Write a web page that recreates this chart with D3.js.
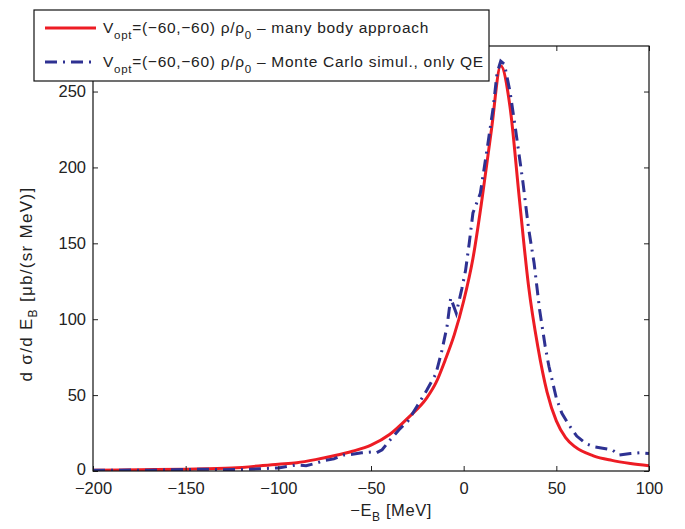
<!DOCTYPE html>
<html>
<head>
<meta charset="utf-8">
<script src="https://cdn.jsdelivr.net/npm/d3@7"></script>
<style>
  body { margin: 0; background: #fff; }
  svg { display: block; font-family: "Liberation Sans", Arial, Helvetica, sans-serif; }
</style>
</head>
<body>
<div id="chart"></div>
<script>
// many body approach (red, solid)
const redX = [-200, -175, -150, -125, -100, -90, -80, -70, -60, -50, -40, -30, -20, -15, -10, -5, 0, 5, 10, 15, 20, 25, 30, 35, 40, 45, 50, 55, 60, 70, 80, 90, 100];
const redY = [0.5, 0.8, 1.2, 2, 4.5, 5.5, 7.5, 10, 13, 17, 24, 35, 48, 58, 73, 90, 112, 140, 180, 225, 267, 240, 180, 122, 82, 52, 33, 22, 16, 10, 7, 5, 3.5];

// Monte Carlo simulation, only QE (blue, dash-dot)
const blueX = [-200, -190, -180, -170, -160, -150, -140, -130, -120, -110, -100, -90, -85, -80, -75, -70, -65, -60, -55, -50, -47, -44, -40, -35, -30, -25, -20, -15, -12, -9, -7, -4, -1, 1, 3, 5, 9, 13, 16, 18, 20, 22, 25, 28, 32, 35, 38, 41, 44, 46, 50, 53, 57, 61, 66, 70, 75, 80, 84, 90, 95, 100];
const blueY = [0.5, 0.5, 0.6, 0.5, 0.8, 1, 1.2, 0.8, 1, 1.5, 2, 4, 3.5, 5, 7, 8, 10.5, 11, 12, 12.5, 12, 14, 20, 27, 33, 43, 53, 64, 78, 95, 114, 104, 120, 132, 150, 170, 183, 215, 240, 262, 270, 268, 250, 225, 190, 160, 137, 106, 82, 69, 48, 38, 30, 23, 18, 16, 15, 14, 10.5, 11.5, 12, 11.5];

const xTicks = [-200, -150, -100, -50, 0, 50, 100];
const yTicks = [0, 50, 100, 150, 200, 250];

const width = 685, height = 529;
const margin = { top: 46, right: 36, bottom: 58, left: 93 };
const innerW = width - margin.left - margin.right;
const innerH = height - margin.top - margin.bottom;

const svg = d3.select("#chart").append("svg")
    .attr("width", width)
    .attr("height", height);

const x = d3.scaleLinear().domain([-200, 100]).range([margin.left, margin.left + innerW]);
const y = d3.scaleLinear().domain([0, 280]).range([margin.top + innerH, margin.top]);

const redData = redX.map((v, i) => [v, redY[i]]);
const blueData = blueX.map((v, i) => [v, blueY[i]]);

const line = d3.line()
    .x(d => x(d[0]))
    .y(d => y(d[1]))
    .curve(d3.curveMonotoneX);

// clip to plot area
svg.append("clipPath").attr("id", "clip")
    .append("rect")
    .attr("x", margin.left).attr("y", margin.top)
    .attr("width", innerW).attr("height", innerH);

const plot = svg.append("g").attr("clip-path", "url(#clip)");

plot.append("path")
    .datum(redData)
    .attr("d", line)
    .attr("fill", "none")
    .attr("stroke", "#ed1c24")
    .attr("stroke-width", 3);

plot.append("path")
    .datum(blueData)
    .attr("d", d3.line().x(d => x(d[0])).y(d => y(d[1])))
    .attr("fill", "none")
    .attr("stroke", "#2e3192")
    .attr("stroke-width", 3)
    .attr("stroke-dasharray", "12,6,2,6");

// axes (ticks inward, box on)
const tickLen = 5;
svg.append("g")
    .attr("transform", `translate(0,${margin.top + innerH})`)
    .call(d3.axisBottom(x).tickValues(xTicks).tickSize(-tickLen).tickPadding(11)
        .tickFormat(d => d < 0 ? "\u2212" + Math.abs(d) : d))
    .call(g => g.select(".domain").remove())
    .call(g => g.selectAll("text").attr("font-size", 16.5).attr("fill", "#222"));

svg.append("g")
    .attr("transform", `translate(${margin.left},0)`)
    .call(d3.axisLeft(y).tickValues(yTicks).tickSize(-tickLen).tickPadding(7))
    .call(g => g.select(".domain").remove())
    .call(g => g.selectAll("text").attr("font-size", 16.5).attr("fill", "#222"))
    .call(g => g.selectAll(".tick").filter(d => d === 0).select("text").attr("dy", "0.2em"));

svg.append("g")
    .attr("transform", `translate(0,${margin.top})`)
    .call(d3.axisTop(x).tickValues(xTicks).tickSize(-tickLen).tickFormat(""))
    .call(g => g.select(".domain").remove());

svg.append("g")
    .attr("transform", `translate(${margin.left + innerW},0)`)
    .call(d3.axisRight(y).tickValues(yTicks).tickSize(-tickLen).tickFormat(""))
    .call(g => g.select(".domain").remove());

svg.selectAll(".tick line").attr("stroke", "#222");

svg.append("rect")
    .attr("x", margin.left).attr("y", margin.top)
    .attr("width", innerW).attr("height", innerH)
    .attr("fill", "none")
    .attr("stroke", "#111")
    .attr("stroke-width", 1.2);

// axis labels
const xl = svg.append("text")
    .attr("x", 432)
    .attr("y", 516)
    .attr("text-anchor", "end")
    .attr("font-size", 16.5)
    .attr("letter-spacing", 0.6)
    .attr("fill", "#222");
xl.append("tspan").text("\u2212E");
xl.append("tspan").attr("font-size", 12).attr("dy", 5).text("B");
xl.append("tspan").attr("dy", -5).text(" [MeV]");

const yl = svg.append("text")
    .attr("transform", `translate(32,284) rotate(-90)`)
    .attr("text-anchor", "middle")
    .attr("font-size", 17)
    .attr("letter-spacing", 1.3)
    .attr("fill", "#222");
yl.append("tspan").text("d \u03c3/d E");
yl.append("tspan").attr("font-size", 12).attr("dy", 5).text("B");
yl.append("tspan").attr("dy", -5).text(" [\u03bcb/(sr MeV)]");

// legend
const legend = svg.append("g");
legend.append("rect")
    .attr("x", 34).attr("y", 10)
    .attr("width", 455).attr("height", 71)
    .attr("fill", "#fff")
    .attr("stroke", "#111")
    .attr("stroke-width", 1.2);

const entries = [
    { color: "#ed1c24", dash: null, tail: " \u2013 many body approach" },
    { color: "#2e3192", dash: "12,6,2,6", tail: " \u2013 Monte Carlo simul., only QE" }
];

entries.forEach((e, i) => {
    const cy = 28 + i * 34;
    legend.append("line")
        .attr("x1", 45).attr("x2", 96)
        .attr("y1", cy).attr("y2", cy)
        .attr("stroke", e.color)
        .attr("stroke-width", 3)
        .attr("stroke-dasharray", e.dash);
    const t = legend.append("text")
        .attr("x", 103).attr("y", cy + 5)
        .attr("font-size", 15.5)
        .attr("letter-spacing", 0.72)
        .attr("fill", "#222");
    t.append("tspan").text("V");
    t.append("tspan").attr("font-size", 11.5).attr("dy", 6).text("opt");
    t.append("tspan").attr("dy", -6).text("=(\u221260,\u221260) \u03c1/\u03c1");
    t.append("tspan").attr("font-size", 11.5).attr("dy", 6).text("0");
    t.append("tspan").attr("dy", -6).text(e.tail);
});
</script>
</body>
</html>
